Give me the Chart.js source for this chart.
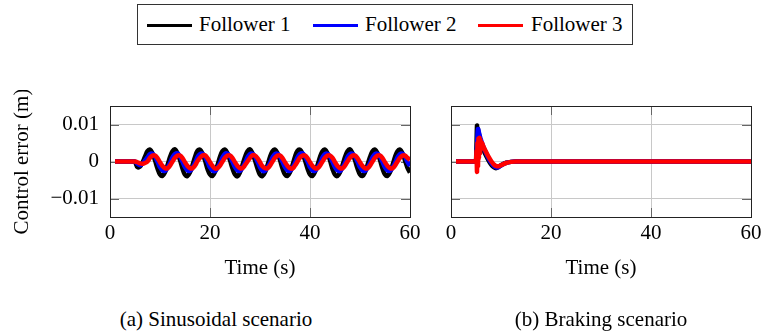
<!DOCTYPE html>
<html><head><meta charset="utf-8">
<script src="https://cdn.jsdelivr.net/npm/chart.js@4.4.0/dist/chart.umd.min.js"></script>
<style>
html,body{margin:0;padding:0;background:#fff;}
#wrap{position:relative;width:762px;height:334px;overflow:hidden;font-family:"Liberation Serif","Tinos","Times New Roman","DejaVu Serif","Noto Serif",serif;color:#000;background:#fff;}
canvas{position:absolute;}
.t{position:absolute;font-size:21px;line-height:21px;white-space:nowrap;}
.ln{position:absolute;height:3px;width:45px;}
</style></head><body>
<div id="wrap">
  <div style="position:absolute;left:137px;top:4px;width:494px;height:39px;border:1px solid #333;"></div>
  <div class="ln" style="left:147px;top:23.5px;background:#000;"></div>
  <div class="t" id="lg1" style="left:199px;top:14px;"></div>
  <div class="ln" style="left:313px;top:23.5px;background:#00f;"></div>
  <div class="t" id="lg2" style="left:365px;top:14px;"></div>
  <div class="ln" style="left:478px;top:23.5px;background:#f00;"></div>
  <div class="t" id="lg3" style="left:531px;top:14px;"></div>
  <canvas id="cA" width="440" height="200" style="left:0;top:90px;"></canvas>
  <canvas id="cB" width="342" height="200" style="left:420px;top:90px;"></canvas>
  <div class="t" id="capA" style="left:0;width:432px;text-align:center;top:309px;"></div>
  <div class="t" id="capB" style="left:430px;width:342px;text-align:center;top:309px;"></div>
</div>
<script>
// ---------- data ----------
const seriesNames = ['Follower 1', 'Follower 2', 'Follower 3'];
const seriesColors = ['#000000', '#0000ff', '#ff0000'];
const captions = ['(a) Sinusoidal scenario', '(b) Braking scenario'];
const xTitle = 'Time (s)';
const yTitle = 'Control error (m)';
const xTickValues = [0, 20, 40, 60];
const xTickLabels = ['0', '20', '40', '60'];
const yTickValues = [-0.01, 0, 0.01];
const yTickLabels = ['\u22120.01', '0', '0.01'];

// Sinusoidal scenario
const sinTime = [
 1,1.5,2,2.5,3,3.5,4,4.5,5,5.5,
 6,6.5,7,7.5,8,8.5,9,9.5,10,10.5,
 11,11.5,12,12.5,13,13.5,14,14.5,15,15.5,
 16,16.5,17,17.5,18,18.5,19,19.5,20,20.5,
 21,21.5,22,22.5,23,23.5,24,24.5,25,25.5,
 26,26.5,27,27.5,28,28.5,29,29.5,30,30.5,
 31,31.5,32,32.5,33,33.5,34,34.5,35,35.5,
 36,36.5,37,37.5,38,38.5,39,39.5,40,40.5,
 41,41.5,42,42.5,43,43.5,44,44.5,45,45.5,
 46,46.5,47,47.5,48,48.5,49,49.5,50,50.5,
 51,51.5,52,52.5,53,53.5,54,54.5,55,55.5,
 56,56.5,57,57.5,58,58.5,59,59.5,60];
const sinF1 = [
 0,0,0,0,0,0,0,0,-0.0002,-0.0015,
 -0.0014,-0.0003,0.0013,0.0028,0.0032,0.0022,0.0003,-0.0019,-0.0035,-0.0039,
 -0.0029,-0.0010,0.0012,0.0028,0.0033,0.0022,0.0004,-0.0019,-0.0036,-0.0039,
 -0.0029,-0.0010,0.0012,0.0029,0.0032,0.0021,0.0003,-0.0020,-0.0035,-0.0039,
 -0.0028,-0.0010,0.0013,0.0028,0.0032,0.0022,0.0003,-0.0019,-0.0035,-0.0040,
 -0.0029,-0.0009,0.0012,0.0028,0.0033,0.0022,0.0003,-0.0019,-0.0036,-0.0039,
 -0.0029,-0.0010,0.0012,0.0028,0.0032,0.0022,0.0004,-0.0019,-0.0035,-0.0039,
 -0.0029,-0.0010,0.0013,0.0029,0.0032,0.0021,0.0003,-0.0019,-0.0035,-0.0039,
 -0.0028,-0.0010,0.0012,0.0028,0.0032,0.0022,0.0003,-0.0020,-0.0036,-0.0039,
 -0.0029,-0.0010,0.0012,0.0028,0.0033,0.0022,0.0003,-0.0019,-0.0035,-0.0039,
 -0.0029,-0.0009,0.0012,0.0028,0.0032,0.0022,0.0004,-0.0019,-0.0035,-0.0039,
 -0.0029,-0.0010,0.0012,0.0028,0.0032,0.0022,0.0003,-0.0017,-0.0030];
const sinF2 = [
 0,0,0,0,0,0,0,0,0,-0.0006,
 -0.0010,-0.0006,0.0002,0.0011,0.0020,0.0021,0.0013,-0.0001,-0.0015,-0.0024,
 -0.0025,-0.0017,-0.0004,0.0011,0.0020,0.0022,0.0013,-0.0001,-0.0015,-0.0024,
 -0.0025,-0.0017,-0.0004,0.0012,0.0020,0.0021,0.0013,-0.0001,-0.0016,-0.0024,
 -0.0026,-0.0017,-0.0004,0.0011,0.0021,0.0021,0.0013,-0.0001,-0.0015,-0.0024,
 -0.0025,-0.0017,-0.0004,0.0011,0.0020,0.0021,0.0014,-0.0001,-0.0015,-0.0025,
 -0.0025,-0.0016,-0.0004,0.0011,0.0020,0.0021,0.0013,-0.0001,-0.0015,-0.0024,
 -0.0025,-0.0017,-0.0004,0.0011,0.0020,0.0022,0.0013,0.0000,-0.0015,-0.0024,
 -0.0025,-0.0017,-0.0005,0.0011,0.0020,0.0021,0.0013,-0.0001,-0.0015,-0.0024,
 -0.0026,-0.0017,-0.0004,0.0012,0.0020,0.0021,0.0013,-0.0001,-0.0015,-0.0024,
 -0.0025,-0.0017,-0.0004,0.0011,0.0020,0.0021,0.0013,-0.0001,-0.0016,-0.0024,
 -0.0025,-0.0017,-0.0004,0.0011,0.0020,0.0021,0.0013,-0.0001,-0.0012];
const sinF3 = [
 0,0,0,0,0,0,0,0,0,-0.0002,
 -0.0005,-0.0006,-0.0004,0.0000,0.0010,0.0016,0.0016,0.0009,-0.0002,-0.0012,
 -0.0018,-0.0018,-0.0011,0.0000,0.0010,0.0016,0.0016,0.0009,-0.0002,-0.0012,
 -0.0018,-0.0018,-0.0011,0.0001,0.0010,0.0016,0.0017,0.0009,-0.0002,-0.0012,
 -0.0019,-0.0018,-0.0011,0.0000,0.0010,0.0016,0.0016,0.0009,-0.0002,-0.0012,
 -0.0018,-0.0018,-0.0010,0.0000,0.0010,0.0017,0.0016,0.0009,-0.0002,-0.0013,
 -0.0018,-0.0018,-0.0011,0.0000,0.0010,0.0016,0.0016,0.0009,-0.0002,-0.0012,
 -0.0018,-0.0019,-0.0011,0.0000,0.0011,0.0016,0.0016,0.0009,-0.0002,-0.0012,
 -0.0018,-0.0018,-0.0011,0.0000,0.0010,0.0016,0.0016,0.0010,-0.0002,-0.0012,
 -0.0018,-0.0018,-0.0011,0.0000,0.0010,0.0016,0.0016,0.0009,-0.0002,-0.0012,
 -0.0018,-0.0018,-0.0011,0.0000,0.0010,0.0016,0.0016,0.0009,-0.0002,-0.0012,
 -0.0018,-0.0018,-0.0011,0.0000,0.0010,0.0016,0.0016,0.0010,0.0004];

// Braking scenario
const brakeTime = [1,4.8,5.0,5.1,5.2,5.3,5.4,5.5,5.6,5.7,5.8,5.9,6.0,6.2,6.5,7.0,7.5,8.0,8.5,9.0,9.5,10.0,10.5,11.0,12.0,13.0,60];
const brakeF1 = [0,0,0,0.0045,0.0097,0.0085,0.0088,0.0072,0.0074,0.0064,0.0062,0.0054,0.0050,0.0042,0.0031,0.0016,0.0003,-0.0008,-0.0015,-0.0018,-0.0015,-0.0010,-0.0006,-0.0003,-0.0001,0,0];
const brakeF2 = [0,0,0,0.0010,0.0040,0.0075,0.0088,0.0084,0.0078,0.0072,0.0067,0.0062,0.0058,0.0050,0.0039,0.0023,0.0009,-0.0003,-0.0011,-0.0016,-0.0015,-0.0011,-0.0007,-0.0004,-0.0001,0,0];
const brakeF3 = [0,0,0,0.0028,-0.0028,0.0050,-0.0012,0.0062,0.0008,0.0064,0.0022,0.0058,0.0034,0.0050,0.0040,0.0026,0.0013,0.0002,-0.0007,-0.0012,-0.0013,-0.0010,-0.0007,-0.0004,-0.0001,0,0];

// ---------- text ----------
document.getElementById('lg1').textContent = seriesNames[0];
document.getElementById('lg2').textContent = seriesNames[1];
document.getElementById('lg3').textContent = seriesNames[2];
document.getElementById('capA').textContent = captions[0];
document.getElementById('capB').textContent = captions[1];

const FONT = {family: '"Liberation Serif", "Tinos", "Times New Roman", "DejaVu Serif", "Noto Serif", serif', size: 21, lineHeight: 1.2};
const TICK = 9;

const framePlugin = {
  id: 'frame',
  beforeDatasetsDraw(chart) {
    const {ctx, chartArea: a, scales: {x, y}} = chart;
    ctx.save();
    ctx.strokeStyle = '#666'; ctx.lineWidth = 1;
    ctx.beginPath();
    x.ticks.forEach(t => {
      const px = Math.round(x.getPixelForValue(t.value)) + 0.5;
      ctx.moveTo(px, a.top); ctx.lineTo(px, a.top + TICK);
      ctx.moveTo(px, a.bottom); ctx.lineTo(px, a.bottom - TICK);
    });
    y.ticks.forEach(t => {
      const py = Math.round(y.getPixelForValue(t.value)) + 0.5;
      ctx.moveTo(a.left, py); ctx.lineTo(a.left + TICK, py);
      ctx.moveTo(a.right, py); ctx.lineTo(a.right - TICK, py);
    });
    ctx.stroke();
    ctx.restore();
  },
  afterDatasetsDraw(chart) {
    const {ctx, chartArea: a} = chart;
    ctx.save();
    ctx.strokeStyle = '#222'; ctx.lineWidth = 1;
    ctx.strokeRect(Math.round(a.left) + 0.5, Math.round(a.top) + 0.5, Math.round(a.right - a.left), Math.round(a.bottom - a.top));
    ctx.restore();
  }
};

function makeDatasets(time, series, tension) {
  return series.map((vals, i) => ({
    label: seriesNames[i],
    data: time.map((t, k) => ({x: t, y: vals[k]})),
    borderColor: seriesColors[i],
    backgroundColor: seriesColors[i],
    borderWidth: 4.5,
    pointRadius: 0,
    tension: tension,
    fill: false,
    order: 3 - i
  }));
}

function makeOptions(showY, pad, yWidth) {
  return {
    responsive: false,
    animation: false,
    layout: {padding: pad},
    plugins: {legend: {display: false}, tooltip: {enabled: false}},
    scales: {
      x: {
        type: 'linear', min: 0, max: 60,
        afterBuildTicks: s => { s.ticks = xTickValues.map(v => ({value: v})); },
        afterFit: s => { s.height = 73; s.paddingLeft = 0; s.paddingRight = 0; },
        ticks: {
          callback: v => xTickLabels[xTickValues.indexOf(v)],
          font: FONT, color: '#000', padding: 4, maxRotation: 0, autoSkip: false
        },
        grid: {color: '#c8c8c8', lineWidth: 1, drawTicks: false},
        border: {display: false},
        title: {display: true, text: xTitle, font: FONT, color: '#000', padding: {top: 0, bottom: 9}}
      },
      y: {
        type: 'linear', min: -0.015, max: 0.015,
        afterBuildTicks: s => { s.ticks = yTickValues.map(v => ({value: v})); },
        afterFit: s => { s.width = yWidth; s.paddingTop = 0; s.paddingBottom = 0; },
        ticks: {
          display: showY,
          callback: v => yTickLabels[yTickValues.indexOf(v)],
          font: FONT, color: '#000', padding: 11, autoSkip: false
        },
        grid: {color: '#c8c8c8', lineWidth: 1, drawTicks: false},
        border: {display: false},
        title: {display: showY, text: yTitle, font: FONT, color: '#000', padding: {top: 10, bottom: 0}}
      }
    }
  };
}

new Chart(document.getElementById('cA'), {
  type: 'line',
  data: {datasets: makeDatasets(sinTime, [sinF1, sinF2, sinF3], 0.4)},
  options: makeOptions(true, {top: 16, right: 30, left: 0, bottom: 0}, 110),
  plugins: [framePlugin]
});
new Chart(document.getElementById('cB'), {
  type: 'line',
  data: {datasets: makeDatasets(brakeTime, [brakeF1, brakeF2, brakeF3], 0.15)},
  options: makeOptions(false, {top: 16, right: 11, left: 0, bottom: 0}, 31),
  plugins: [framePlugin]
});
</script>
</body></html>
